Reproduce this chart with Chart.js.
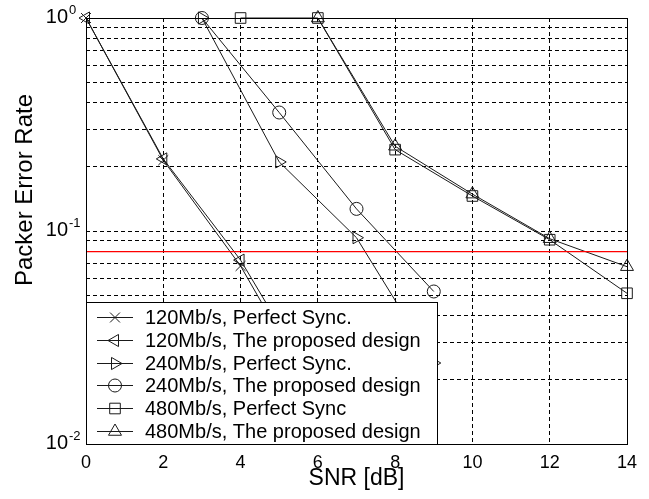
<!DOCTYPE html>
<html>
<head>
<meta charset="utf-8">
<script src="https://cdn.jsdelivr.net/npm/chart.js@4/dist/chart.umd.min.js"></script>
<style>
html,body{margin:0;padding:0;background:#fff;}
#wrap{width:649px;height:499px;}
</style>
</head>
<body>
<div id="wrap"><canvas id="c" width="649" height="499"></canvas></div>
<script>
// ---- data ----
const seriesLabels = [
  '120Mb/s, Perfect Sync.',
  '120Mb/s, The proposed design',
  '240Mb/s, Perfect Sync.',
  '240Mb/s, The proposed design',
  '480Mb/s, Perfect Sync',
  '480Mb/s, The proposed design'
];
const snr120 = [0, 2, 4, 6];
const per120Perfect = [1, 0.215, 0.0685, 0.016];
const per120Proposed = [1, 0.218, 0.073, 0.018];
const snr240 = [3, 5, 7, 9];
const per240Perfect = [1, 0.211, 0.093, 0.024];
const per240Proposed = [1, 0.36, 0.127, 0.052];
const snr480Perfect = [4, 6, 8, 10, 12, 14];
const per480Perfect = [1, 1, 0.241, 0.146, 0.091, 0.051];
const snr480Proposed = [6, 8, 10, 12, 14];
const per480Proposed = [1, 0.25, 0.149, 0.092, 0.068];
const thresholdSnr = [0, 14];
const thresholdPer = [0.08, 0.08];
const xTickValues = [0, 2, 4, 6, 8, 10, 12, 14];
// grid line at 0.08 is hidden under the red threshold line in the reference
const yGridValues = [0.01,0.02,0.03,0.04,0.05,0.06,0.07,0.09,
                     0.1,0.2,0.3,0.4,0.5,0.6,0.7,0.8,0.9,1];
const yTickLabels = [
  {value: 1, base: '10', exp: '0'},
  {value: 0.1, base: '10', exp: '-1'},
  {value: 0.01, base: '10', exp: '-2'}
];
const xAxisTitle = 'SNR [dB]';
const yAxisTitle = 'Packer Error Rate';

const FONT = '"Liberation Sans", Arial, Helvetica, sans-serif';
Chart.defaults.font.family = FONT;
Chart.defaults.color = '#000';

const pts = (xs, ys) => xs.map((x, i) => ({x: x, y: ys[i]}));
const LINE = '#1a1a1a';
const markers = [
  {style: 'crossRot', radius: 7, rotation: 0},
  {style: 'triangle', radius: 7, rotation: -90},
  {style: 'triangle', radius: 7, rotation: 90},
  {style: 'circle', radius: 6.5, rotation: 0},
  {style: 'rect', radius: 7.5, rotation: 0},
  {style: 'triangle', radius: 7.5, rotation: 0}
];
const seriesData = [
  pts(snr120, per120Perfect),
  pts(snr120, per120Proposed),
  pts(snr240, per240Perfect),
  pts(snr240, per240Proposed),
  pts(snr480Perfect, per480Perfect),
  pts(snr480Proposed, per480Proposed)
];

const datasets = [{
  label: 'threshold',
  data: pts(thresholdSnr, thresholdPer),
  borderColor: 'rgb(255,0,0)',
  backgroundColor: 'rgb(255,0,0)',
  borderWidth: 1.3,
  pointRadius: 0,
  tension: 0,
  order: 0
}];
seriesData.forEach((d, i) => datasets.push({
  label: seriesLabels[i],
  data: d,
  borderColor: LINE,
  borderWidth: 1,
  pointStyle: markers[i].style,
  pointRadius: markers[i].radius,
  pointRotation: markers[i].rotation,
  pointBorderColor: LINE,
  pointBorderWidth: 1,
  pointBackgroundColor: 'rgba(255,255,255,0)',
  pointHoverRadius: markers[i].radius,
  tension: 0,
  clip: false,
  order: 1
}));

function drawMarker(ctx, m, x, y) {
  ctx.beginPath();
  const r = m.radius;
  if (m.style === 'circle') {
    ctx.arc(x, y, r, 0, Math.PI * 2);
    ctx.closePath();
  } else if (m.style === 'rect') {
    const s = Math.SQRT1_2 * r;
    ctx.rect(x - s, y - s, 2 * s, 2 * s);
  } else if (m.style === 'crossRot') {
    const s = Math.SQRT1_2 * r;
    ctx.moveTo(x - s, y - s); ctx.lineTo(x + s, y + s);
    ctx.moveTo(x - s, y + s); ctx.lineTo(x + s, y - s);
  } else if (m.style === 'triangle') {
    let rad = m.rotation * Math.PI / 180;
    ctx.moveTo(x + Math.sin(rad) * r, y - Math.cos(rad) * r);
    rad += 2 * Math.PI / 3;
    ctx.lineTo(x + Math.sin(rad) * r, y - Math.cos(rad) * r);
    rad += 2 * Math.PI / 3;
    ctx.lineTo(x + Math.sin(rad) * r, y - Math.cos(rad) * r);
    ctx.closePath();
  }
  ctx.stroke();
}

function drawFrame(chart) {
  const {ctx, chartArea: a} = chart;
  ctx.save();
  ctx.strokeStyle = '#000';
  ctx.lineWidth = 1;
  const l = Math.round(a.left) + 0.5, t = Math.round(a.top) + 0.5;
  const r = Math.round(a.right) + 0.5, b = Math.round(a.bottom) + 0.5;
  ctx.strokeRect(l, t, r - l, b - t);
  ctx.restore();
}

const overlay = {
  id: 'overlay',
  beforeDatasetsDraw(chart) { drawFrame(chart); },
  afterDatasetsDraw(chart) {
    const {ctx, chartArea: a} = chart;
    // legend box
    const lx = Math.round(a.left) + 0.5, ly = 302.5, lr = 437.5, lb = Math.round(a.bottom) + 0.5;
    ctx.save();
    ctx.fillStyle = '#fff';
    ctx.fillRect(lx, ly, lr - lx, lb - ly);
    ctx.strokeStyle = '#000';
    ctx.lineWidth = 1;
    ctx.strokeRect(lx, ly, lr - lx, lb - ly);
    ctx.font = '20px ' + FONT;
    ctx.textBaseline = 'middle';
    ctx.textAlign = 'left';
    ctx.fillStyle = '#000';
    const rowH = 22.8, firstRow = 317;
    seriesLabels.forEach((lab, i) => {
      const y = Math.round(firstRow + i * rowH) + 0.5;
      ctx.strokeStyle = LINE;
      ctx.lineWidth = 1;
      ctx.beginPath(); ctx.moveTo(97, y); ctx.lineTo(133, y); ctx.stroke();
      drawMarker(ctx, markers[i], 115, y);
      ctx.fillText(lab, 145, y + 1);
    });
    ctx.restore();
    drawFrame(chart);
  },
  afterDraw(chart) {
    const {ctx} = chart;
    const ys = chart.scales.y;
    ctx.save();
    ctx.fillStyle = '#000';
    ctx.textBaseline = 'alphabetic';
    yTickLabels.forEach(t => {
      const py = ys.getPixelForValue(t.value);
      ctx.font = '20px ' + FONT;
      ctx.textAlign = 'right';
      ctx.fillText(t.base, 68, py + 5);
      ctx.font = '13px ' + FONT;
      ctx.textAlign = 'left';
      ctx.fillText(t.exp, 69, py - 4);
    });
    // y axis title
    ctx.translate(25, 190);
    ctx.rotate(-Math.PI / 2);
    ctx.font = '24px ' + FONT;
    ctx.textAlign = 'center';
    ctx.textBaseline = 'middle';
    ctx.fillText(yAxisTitle, 0, 0);
    ctx.restore();
  }
};

new Chart(document.getElementById('c'), {
  type: 'line',
  data: {datasets: datasets},
  plugins: [overlay],
  options: {
    responsive: false,
    animation: false,
    devicePixelRatio: 1,
    layout: {padding: {left: 0, top: 18, right: 22, bottom: 0}},
    plugins: {legend: {display: false}, tooltip: {enabled: false}},
    scales: {
      x: {
        type: 'linear',
        min: 0, max: 14,
        afterBuildTicks: s => { s.ticks = xTickValues.map(v => ({value: v})); },
        afterFit: s => { s.height = 55; },
        ticks: {font: {size: 18}, color: '#000', padding: 8, maxRotation: 0},
        grid: {color: '#000', lineWidth: 1, drawTicks: false},
        border: {display: false, dash: [4, 3]},
        title: {display: true, text: xAxisTitle, font: {size: 23}, color: '#000', padding: {top: 0, bottom: 7}}
      },
      y: {
        type: 'logarithmic',
        min: 0.01, max: 1,
        afterBuildTicks: s => { s.ticks = yGridValues.map(v => ({value: v})); },
        afterFit: s => { s.width = 86; },
        ticks: {display: false},
        grid: {color: '#000', lineWidth: 1, drawTicks: false},
        border: {display: false, dash: [4, 3]}
      }
    }
  }
});
</script>
</body>
</html>
